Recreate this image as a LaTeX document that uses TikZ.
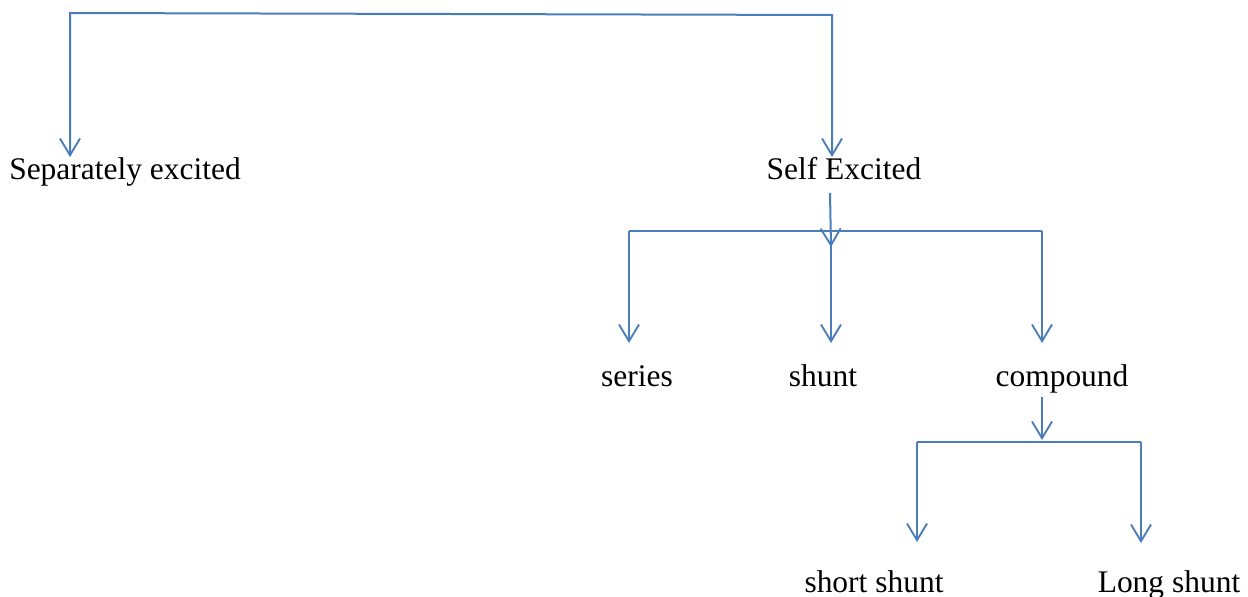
\documentclass[tikz,border=0pt]{standalone}
\usepackage{fontspec}
\setmainfont{Liberation Serif}
\usetikzlibrary{arrows.meta}
\definecolor{lineblue}{HTML}{4A7EBB}
\tikzset{
  conn/.style={draw=lineblue, line width=1.5pt, line join=miter},
  arr/.style={conn, -{Straight Barb[length=12.5pt,width=15pt,line width=1.4pt]}},
  darr/.style={conn, {Straight Barb[length=12.5pt,width=15pt,line width=1.4pt]}-{Straight Barb[length=12.5pt,width=15pt,line width=1.4pt]}},
  lbl/.style={inner sep=0pt, anchor=base, font=\fontsize{23.6pt}{28pt}\selectfont, text=black}
}
\begin{document}
\begin{tikzpicture}[x=0.75pt,y=-0.75pt]
\useasboundingbox[fill=white] (0,0) rectangle (1248,596);
% text nodes
\node[lbl, anchor=base west] (sep) at (9,179) {Separately excited};
\node[lbl] (self) at (844,179) {Self Excited};
\node[lbl] (series) at (637,386) {series};
\node[lbl] (shunt) at (823,386) {shunt};
\node[lbl] (compound) at (1062,386) {compound};
\node[lbl] (short) at (874,592) {short shunt};
\node[lbl] (long) at (1169,592) {Long shunt};
% junction coordinates
\coordinate (tl) at (70,13);
\coordinate (tr) at (832,15);
\coordinate (septip) at (70,157);
\coordinate (selftip) at (832,157);
\coordinate (selfout) at (830,193);
\coordinate (selfin) at (831,247);
\coordinate (bl) at (629,231);
\coordinate (br) at (1042,231);
\coordinate (seriestip) at (629,343);
\coordinate (shunttop) at (831,231);
\coordinate (shunttip) at (831,343);
\coordinate (comptip) at (1042,343);
\coordinate (compout) at (1042,397);
\coordinate (compin) at (1042,440);
\coordinate (cl) at (917,442);
\coordinate (cr) at (1141,442);
\coordinate (shorttip) at (917,542);
\coordinate (longtip) at (1141,543);
% connectors
\draw[darr] (septip) -- (tl) -- (tr) -- (selftip);
\draw[arr] (selfout) -- (selfin);
\draw[conn] (bl) -- (br);
\draw[arr] (bl) -- (seriestip);
\draw[arr] (shunttop) -- (shunttip);
\draw[arr] (br) -- (comptip);
\draw[arr] (compout) -- (compin);
\draw[conn] (cl) -- (cr);
\draw[arr] (cl) -- (shorttip);
\draw[arr] (cr) -- (longtip);
\end{tikzpicture}
\end{document}
